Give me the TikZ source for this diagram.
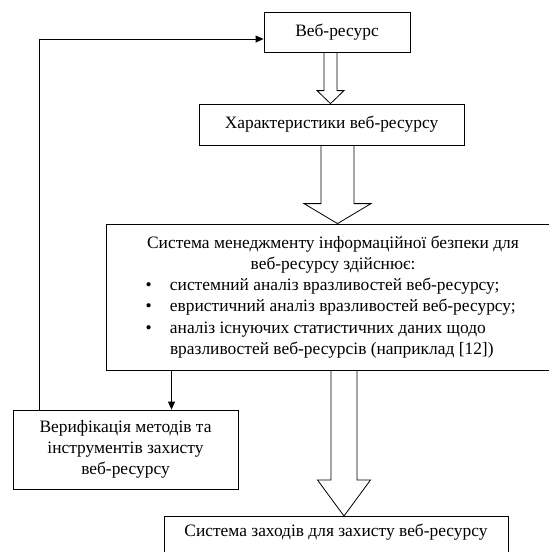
\documentclass[tikz,border=0pt]{standalone}
\usepackage{fontspec}
\setmainfont{Liberation Serif}
\usetikzlibrary{calc,arrows.meta}
\newcommand\fatarrow[6]{%
  \draw[fat] ($(#1.south -| #3)+(-#4,0)$) -- ($(#2.north -| #3)+(-#4,-#6)$)
    -- ($(#2.north -| #3)+(-#5,-#6)$) -- (#2.north -| #3)
    -- ($(#2.north -| #3)+(#5,-#6)$) -- ($(#2.north -| #3)+(#4,-#6)$)
    -- ($(#1.south -| #3)+(#4,0)$);}
\newcommand\mybul{\hspace*{2.5pt}\makebox[24.5pt][l]{\textbullet}}
\begin{document}
\begin{tikzpicture}[x=1pt,y=-1pt,
  box/.style={draw, line width=0.8pt, inner sep=0pt, align=center,
    font=\fontsize{17.4}{20.8}\selectfont},
  fat/.style={line width=0.8pt, line join=miter},
  arr/.style={line width=0.8pt, -{Triangle[length=8pt,width=7pt]}}]
\clip (0,0) rectangle (549,552);
\fill[white] (0,0) rectangle (549,552);

\node[box, minimum width=146pt, minimum height=40pt] (web) at (337,32) {Веб-ресурс};
\node[box, minimum width=265pt, minimum height=41pt] (char) at (331.5,124.5) {Характеристики веб-ресурсу};
\node[box, minimum width=454pt, minimum height=146pt] (sys) at (333,297) {%
  \begin{minipage}{380pt}\fontsize{17.4}{21.2}\selectfont
  \centering Система менеджменту інформаційної безпеки для\\ веб-ресурсу здійснює:\par
  \raggedright
  \mybul системний аналіз вразливостей веб-ресурсу;\\
  \mybul евристичний аналіз вразливостей веб-ресурсу;\\
  \mybul аналіз існуючих статистичних даних щодо\\
  \hspace*{27pt}вразливостей веб-ресурсів (наприклад [12])
  \end{minipage}};
\node[box, minimum width=225pt, minimum height=79pt] (verif) at (125.5,449.5)
  {Верифікація методів та\\ інструментів захисту\\ веб-ресурсу};
\node[box, minimum width=344pt, anchor=north, text height=20.5pt, text depth=26pt] (meas) at (336,516)
  {Система заходів для захисту веб-ресурсу};

\coordinate (c1) at (330.5,0);
\coordinate (c2) at (337.5,0);
\coordinate (c3) at (344,0);
\fatarrow{web}{char}{c1}{6.5}{13.5}{13}
\fatarrow{char}{sys}{c2}{16.5}{33.5}{20}
\fatarrow{sys}{meas}{c3}{13}{26.5}{36}

\coordinate (fb) at (39,39);
\draw[arr] (verif.north -| fb) -- (fb) -- (web.west |- fb);
\coordinate (sa) at (171.5,0);
\draw[arr] (sys.south -| sa) -- (verif.north -| sa);
\end{tikzpicture}
\end{document}
